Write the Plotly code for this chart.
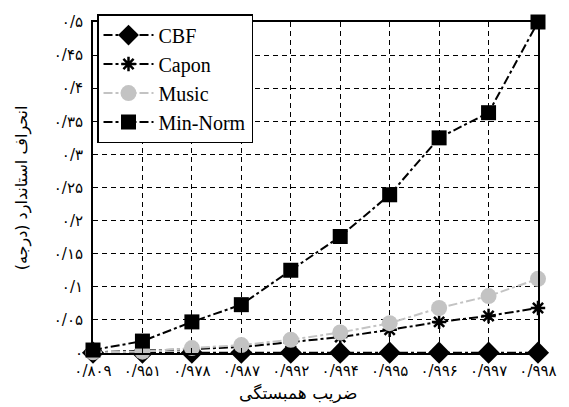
import plotly.graph_objects as go

# Correlation coefficient categories (Persian digits, "/" as decimal mark)
categories = ["۰/۸۰۹", "۰/۹۵۱", "۰/۹۷۸", "۰/۹۸۷", "۰/۹۹۲",
              "۰/۹۹۴", "۰/۹۹۵", "۰/۹۹۶", "۰/۹۹۷", "۰/۹۹۸"]

# Standard deviation (degrees) for each estimator
cbf = [0.0005, 0.0005, 0.0005, 0.0005, 0.0005, 0.0005, 0.0005, 0.0005, 0.0005, 0.0005]
capon = [0.001, 0.003, 0.006, 0.009, 0.016, 0.024, 0.035, 0.047, 0.056, 0.068]
music = [0.001, 0.002, 0.0075, 0.012, 0.02, 0.031, 0.045, 0.068, 0.086, 0.112]
min_norm = [0.0045, 0.018, 0.047, 0.073, 0.125, 0.176, 0.239, 0.325, 0.363, 0.5]

y_tickvals = [0, 0.05, 0.1, 0.15, 0.2, 0.25, 0.3, 0.35, 0.4, 0.45, 0.5]
y_ticktext = ["۰", "۰/۰۵", "۰/۱", "۰/۱۵", "۰/۲", "۰/۲۵",
              "۰/۳", "۰/۳۵", "۰/۴", "۰/۴۵", "۰/۵"]

x_title = "ضریب همبستگی"
y_title = "انحراف استاندارد (درجه)"

fig = go.Figure()

series = [
    ("CBF", cbf, dict(symbol="diamond", size=17, color="black"), "black"),
    ("Capon", capon, dict(symbol="asterisk", size=12, color="black",
                          line=dict(color="black", width=2.5)), "black"),
    ("Music", music, dict(symbol="circle", size=16, color="#c3c3c3"), "#c3c3c3"),
    ("Min-Norm", min_norm, dict(symbol="square", size=15, color="black"), "black"),
]

for name, vals, marker, col in series:
    fig.add_trace(go.Scatter(
        x=categories, y=vals, name=name, mode="lines+markers",
        line=dict(color=col, width=2, dash="dashdot"),
        marker=marker, cliponaxis=False,
    ))

fig.update_layout(
    width=569, height=407,
    margin=dict(l=93, r=23, t=22, b=54),
    paper_bgcolor="white", plot_bgcolor="white",
    font=dict(family="DejaVu Sans", color="black"),
    showlegend=True,
    legend=dict(
        x=0.009, y=1.024, xanchor="left", yanchor="top",
        bgcolor="white", bordercolor="black", borderwidth=1.5,
        font=dict(family="'Liberation Serif', 'DejaVu Serif', serif",
                  size=20, color="black"),
        itemwidth=50, tracegroupgap=0,
    ),
)

fig.update_xaxes(
    type="category", range=[0, 9],
    showgrid=True, gridcolor="black", griddash="5px,4px", gridwidth=1,
    showline=True, linecolor="black", linewidth=2, mirror=True,
    ticks="inside", ticklen=5, tickcolor="black", ticklabelstandoff=3,
    tickfont=dict(family="DejaVu Sans", size=15, color="black"),
    zeroline=False,
)
fig.update_yaxes(
    range=[0, 0.5], tickvals=y_tickvals, ticktext=y_ticktext,
    showgrid=True, gridcolor="black", griddash="5px,4px", gridwidth=1,
    showline=True, linecolor="black", linewidth=2, mirror=True,
    ticks="inside", ticklen=5, tickcolor="black", ticklabelstandoff=5,
    tickfont=dict(family="DejaVu Sans", size=15, color="black"),
    zeroline=False,
)

fig.add_annotation(
    text=x_title, xref="paper", yref="paper", x=0.46, y=-0.12,
    xanchor="center", yanchor="middle", showarrow=False,
    font=dict(family="DejaVu Sans", size=17, color="black"),
)
fig.add_annotation(
    text=y_title, xref="paper", yref="paper", x=-0.16, y=0.5,
    xanchor="center", yanchor="middle", showarrow=False, textangle=-90,
    font=dict(family="DejaVu Sans", size=16, color="black"),
)

fig.write_html("out.html")
